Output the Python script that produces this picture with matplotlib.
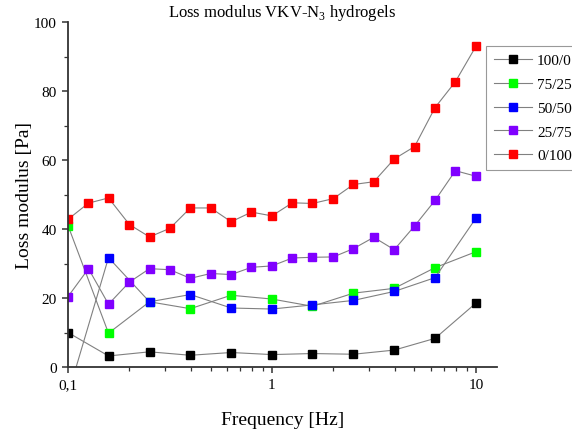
import matplotlib
matplotlib.use("Agg")
import matplotlib.pyplot as plt
from matplotlib.ticker import FixedLocator, MultipleLocator, LogLocator, NullFormatter

plt.rcParams['font.family'] = ['Liberation Serif', 'DejaVu Serif']
plt.rcParams['mathtext.fontset'] = 'custom'
plt.rcParams['mathtext.rm'] = 'Liberation Serif'

# frequencies [Hz]
freq_full = [0.1, 0.126, 0.158, 0.2, 0.251, 0.316, 0.398, 0.501, 0.631, 0.794,
             1.0, 1.26, 1.58, 2.0, 2.51, 3.16, 3.98, 5.01, 6.31, 7.94, 10.0]
freq_half = [0.1, 0.158, 0.251, 0.398, 0.631, 1.0, 1.58, 2.51, 3.98, 6.31, 10.0]

# loss modulus [Pa]
g_100_0 = [10.0, 3.2, 4.4, 3.4, 4.2, 3.6, 3.9, 3.7, 4.9, 8.3, 18.5]
g_75_25 = [41.0, 9.8, 18.9, 16.9, 20.8, 19.7, 17.6, 21.4, 22.8, 28.8, 33.4]
g_50_50 = [-8.0, 31.7, 18.9, 21.0, 17.1, 16.8, 18.0, 19.3, 21.9, 25.9, 43.1]
g_25_75 = [20.4, 28.5, 18.2, 24.6, 28.5, 28.2, 25.7, 27.1, 26.8, 28.9, 29.3,
           31.6, 31.8, 31.9, 34.3, 37.6, 34.0, 40.9, 48.3, 56.9, 55.3]
g_0_100 = [42.8, 47.5, 49.0, 41.3, 37.7, 40.2, 46.1, 46.1, 42.1, 44.9, 43.8,
           47.6, 47.4, 48.8, 52.9, 53.7, 60.3, 63.9, 75.2, 82.7, 92.9]

series = [
    ("100/0", freq_half, g_100_0, "#000000"),
    ("75/25", freq_half, g_75_25, "#00ff00"),
    ("50/50", freq_half, g_50_50, "#0000ff"),
    ("25/75", freq_full, g_25_75, "#8000ff"),
    ("0/100", freq_full, g_0_100, "#ff0000"),
]

fig = plt.figure(figsize=(5.72, 4.35), dpi=100)
ax = fig.add_axes([68 / 572, 1 - 368 / 435, (497 - 68) / 572, (368 - 23) / 435])

for label, x, y, col in series:
    ax.plot(x, y, color="#808080", lw=0.8, marker="s", markersize=5.5,
            markerfacecolor=col, markeredgecolor=col, label=label)

ax.set_xscale("log")
ax.set_xlim(0.1, 12.7)
ax.set_ylim(0, 100)

for side in ("top", "right"):
    ax.spines[side].set_visible(False)
for side in ("left", "bottom"):
    ax.spines[side].set_linewidth(1.3)
    ax.spines[side].set_color("#333333")

ax.xaxis.set_major_locator(FixedLocator([0.1, 1, 10]))
ax.set_xticklabels(["0,1", "1", "10"])
ax.xaxis.set_minor_locator(LogLocator(base=10, subs=range(2, 10)))
ax.xaxis.set_minor_formatter(NullFormatter())
ax.yaxis.set_major_locator(MultipleLocator(20))
ax.yaxis.set_minor_locator(MultipleLocator(10))

ax.tick_params(which="major", direction="out", length=4.5, width=1.1,
               labelsize=11, color="#333333")
ax.tick_params(which="minor", direction="out", length=3, width=0.9,
               color="#333333")

ax.set_title("Loss modulus VKV-N$_3$ hydrogels", fontsize=12, pad=2)
ax.set_xlabel("Frequency [Hz]", fontsize=14, labelpad=14)
ax.set_ylabel("Loss modulus [Pa]", fontsize=14, labelpad=1)

leg = fig.legend(loc="upper left", bbox_to_anchor=(486 / 572, 1 - 47 / 435),
                 fontsize=11, frameon=True, fancybox=False, handlelength=2.5,
                 handletextpad=0.33, labelspacing=0.66, borderpad=0.5,
                 borderaxespad=0)
leg.get_frame().set_edgecolor("#808080")
leg.get_frame().set_linewidth(0.8)

fig.savefig("out.png", dpi=100)
